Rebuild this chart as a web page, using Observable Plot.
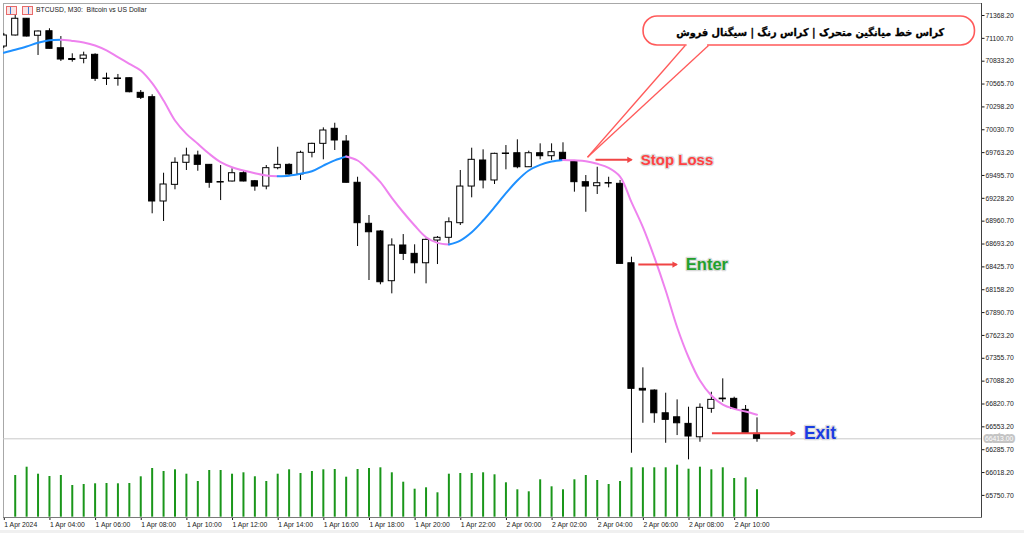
<!DOCTYPE html>
<html><head><meta charset="utf-8">
<script src="https://cdn.jsdelivr.net/npm/d3@7"></script>
<script src="https://cdn.jsdelivr.net/npm/@observablehq/plot@0.6"></script>
<style>
html,body{margin:0;padding:0;background:#fff;overflow:hidden;}
#wrap{position:relative;width:1024px;height:533px;background:#fff;}
#wrap svg{position:absolute;left:0;top:0;}
#title{position:absolute;left:36px;top:6px;font:6.8px "Liberation Sans",Arial,sans-serif;color:#1a1a1a;white-space:pre;z-index:5;}
.ico{position:absolute;top:6px;width:9px;height:7px;border:1px solid #e86a6a;background:#fbe3e3;z-index:5;}
.ico i{position:absolute;left:3px;top:0;width:1px;height:7px;background:#3a7bd5;}
#strip{position:absolute;left:0;top:530px;width:1024px;height:3px;background:#f0f0f0;}
</style></head><body>
<div id="wrap"><div id="strip"></div>
<div class="ico" style="left:6px"><i></i></div><div class="ico" style="left:22px"><i style="left:5px"></i></div>
<div id="title">BTCUSD, M30:  Bitcoin vs US Dollar</div>
</div>
<script>
// ---- data (BTCUSD M30, 1 Apr 2024 02:00 -> 2 Apr 2024 11:00) ----
const open = [71005, 71134, 71330, 71131, 71184, 70985, 70859, 70861, 70908, 70631,
 70625, 70634, 70463, 70412, 69191, 69386, 69644, 69729, 69620, 69419,
 69425, 69522, 69428, 69366, 69581, 69620, 69507, 69761, 69866, 70042,
 69893, 69410, 68930, 68840, 68258, 68676, 68578, 68468, 68734, 68766,
 68937, 69366, 69671, 69437, 69753, 69756, 69592, 69756, 69721, 69761,
 69663, 69417, 69370, 69407, 69398, 68468, 66998, 66978, 66712, 66665,
 66588, 66431, 66764, 66884, 66881, 66752, 66471];
const high = [71158, 71368, 71333, 71187, 71213, 71122, 70920, 70939, 70920, 70693,
 70678, 70637, 70490, 70440, 69522, 69702, 69815, 69780, 69624, 69612,
 69574, 69545, 69437, 69612, 69826, 69632, 69780, 69873, 70053, 70107,
 69963, 69475, 69027, 68851, 68754, 68804, 68684, 68754, 68781, 69000,
 69554, 69815, 69796, 69756, 69846, 69913, 69780, 69866, 69866, 69878,
 69667, 69495, 69592, 69475, 69437, 68539, 67244, 66986, 66947, 66869,
 66783, 66822, 66958, 67115, 66900, 66803, 66658];
const low = [70982, 71128, 71117, 70900, 70976, 70830, 70822, 70803, 70596, 70549,
 70541, 70463, 70385, 69047, 68957, 69328, 69554, 69545, 69346, 69202,
 69419, 69421, 69311, 69328, 69562, 69495, 69437, 69702, 69679, 69788,
 69407, 68664, 68266, 68216, 68110, 68500, 68344, 68227, 68453, 68676,
 68910, 69234, 69339, 69390, 69562, 69574, 69589, 69679, 69671, 69669,
 69300, 69065, 69273, 69351, 68459, 66244, 66595, 66595, 66361, 66451,
 66167, 66373, 66712, 66841, 66762, 66475, 66373];
const close = [71134, 71330, 71122, 71181, 70978, 70853, 70847, 70900, 70627, 70625,
 70631, 70470, 70405, 69191, 69390, 69644, 69729, 69620, 69410, 69413,
 69522, 69425, 69366, 69581, 69620, 69507, 69761, 69866, 70022, 69905,
 69410, 68937, 68831, 68246, 68676, 68578, 68468, 68742, 68766, 68948,
 69366, 69679, 69437, 69749, 69747, 69592, 69756, 69721, 69768, 69671,
 69417, 69366, 69405, 69401, 68461, 66998, 66978, 66712, 66635, 66595,
 66440, 66776, 66869, 66876, 66764, 66478, 66413];
const tickVolume = [4000, 4170, 5000, 4300, 4070, 4170, 3170, 3270, 3340, 3370,
 3340, 3370, 4040, 4870, 4570, 4740, 4300, 3570, 4670, 4670,
 4300, 4440, 4040, 3570, 4300, 4740, 4370, 4570, 4740, 4770,
 4000, 4770, 4870, 4940, 4440, 3500, 2800, 2940, 2440, 4300,
 4370, 4370, 4440, 4240, 3440, 2740, 2540, 3740, 3040, 2740,
 3740, 4170, 3670, 3270, 3570, 4940, 4940, 4940, 4940, 5200,
 4800, 5000, 4740, 4940, 3870, 3940, 2740];
const movingAverage = [70932, 70967, 71005, 71049, 71078, 71084, 71071, 71052, 71017, 70959,
 70880, 70803, 70724, 70576, 70373, 70139, 69983, 69866, 69749, 69651,
 69592, 69554, 69522, 69495, 69487, 69493, 69515, 69545, 69612, 69673,
 69718, 69671, 69554, 69417, 69234, 69065, 68910, 68773, 68707, 68687,
 68734, 68831, 68968, 69124, 69288, 69437, 69554, 69620, 69659, 69678,
 69673, 69663, 69632, 69585, 69483, 69183, 68890, 68539, 68149, 67719,
 67368, 67095, 66920, 66814, 66764, 66732, 66694];
const lastPrice = 66413.00;
const priceTicks = [71368.2, 71100.7, 70833.2, 70565.7, 70298.2, 70030.7, 69763.2, 69495.7,
 69228.2, 68960.7, 68693.2, 68425.7, 68158.2, 67890.7, 67623.2, 67355.7, 67088.2, 66820.7,
 66553.2, 66285.7, 66018.2, 65750.7];
const timeTickIndex = [0, 4, 8, 12, 16, 20, 24, 28, 32, 36, 40, 44, 48, 52, 56, 60, 64];
const timeTickLabels = ["1 Apr 2024", "1 Apr 04:00", "1 Apr 06:00", "1 Apr 08:00", "1 Apr 10:00",
 "1 Apr 12:00", "1 Apr 14:00", "1 Apr 16:00", "1 Apr 18:00", "1 Apr 20:00", "1 Apr 22:00",
 "2 Apr 00:00", "2 Apr 02:00", "2 Apr 04:00", "2 Apr 06:00", "2 Apr 08:00", "2 Apr 10:00"];
// annotations (bar index / price)
const annotLabels = ["Stop Loss", "Enter", "Exit"];
const annotFrom = [51.85, 55.6, 62.05];
const annotTo = [55.2, 59.15, 69.5];
const annotPrice = [69679, 68453, 66478];
const bubbleText = "کراس خط میانگین متحرک | کراس رنگ | سیگنال فروش";
const bubbleIdx = [56.06, 85.1];
const bubblePrice = [71017, 71356];
const bubbleTextAt = [70.66, 71168];
const tailBaseIdx = [59.71, 61.75];
const tailTip = [51.15, 69709];

// ---- styles ----
const MA_UP = "#1e90ff", MA_DOWN = "#ee82ee", RED = "#f04545";
const annotColors = ["#ff4242", "#22a02c", "#1a3ce2"];
const annotSizes = [15, 16.5, 17.5];

const bars = open.map((o, i) => ({i, o, h: high[i], l: low[i], c: close[i]}));
const maPts = [];
let run = 0, prev = null;
for (let j = 0; j < movingAverage.length - 1; j++) {
  const col = movingAverage[j + 1] >= movingAverage[j] ? MA_UP : MA_DOWN;
  if (col !== prev) { run++; prev = col; maPts.push({i: j, v: movingAverage[j], run, col}); }
  maPts.push({i: j + 1, v: movingAverage[j + 1], run, col});
}
const annots = annotLabels.map((label, k) => ({label, from: annotFrom[k], to: annotTo[k], p: annotPrice[k], color: annotColors[k], size: annotSizes[k]}));

const X = () => ({domain: [0, 66], range: [3.3, 756.5]});
const dims = {width: 1024, height: 533, marginTop: 3, marginBottom: 16, marginRight: 43};
const font = "'Liberation Sans', Arial, sans-serif";

const volPlot = Plot.plot({
  ...dims, marginLeft: 5,
  style: {background: "transparent", overflow: "visible"},
  x: {...X(), axis: null}, y: {domain: [0, 5000], range: [516.7, 466.7], axis: null},
  marks: [
    Plot.ruleX(tickVolume, {x: (d, i) => i, y1: 0, y2: d => d, stroke: "#1a961a", strokeWidth: 2, clip: true})
  ]
});

const main = Plot.plot({
  ...dims, marginLeft: 3,
  style: {background: "transparent", fontFamily: font, fontSize: "6.8px", color: "#1a1a1a", overflow: "visible"},
  x: X(), y: {domain: [65750.7, 71368.2], range: [494.9, 15]},
  color: {type: "identity"},
  marks: [
    Plot.frame({stroke: "#a8a8a8"}),
    Plot.ruleY([lastPrice], {stroke: "#c8c8c8"}),
    Plot.ruleX(bars, {x: "i", y1: "l", y2: "h", stroke: "#000", strokeWidth: 1, clip: true}),
    Plot.rect(bars, {x1: d => d.i - 0.27, x2: d => d.i + 0.27, y1: "o", y2: "c",
      fill: d => d.c >= d.o ? "#fff" : "#000", stroke: "#000", strokeWidth: 1, clip: true}),
    Plot.line(maPts, {x: "i", y: "v", z: "run", stroke: "col", strokeWidth: 2, curve: "catmull-rom", clip: true}),
    // speech bubble
    Plot.rect([bubbleText], {x1: bubbleIdx[0], x2: bubbleIdx[1], y1: bubblePrice[0], y2: bubblePrice[1],
      rx: 14, fill: "#fff", stroke: "#ff5a5a", strokeWidth: 1.6}),
    Plot.link([0], {x1: tailBaseIdx[0] + 0.12, x2: tailBaseIdx[1] - 0.12, y1: bubblePrice[0], y2: bubblePrice[0], stroke: "#fff", strokeWidth: 3}),
    Plot.link(tailBaseIdx, {x1: d => d, y1: bubblePrice[0], x2: tailTip[0], y2: tailTip[1], stroke: "#ff5a5a", strokeWidth: 1.3}),
    Plot.text([bubbleText], {x: bubbleTextAt[0], y: bubbleTextAt[1], text: d => d, fontSize: 10.5, fontWeight: "bold",
      fontFamily: "'DejaVu Sans', sans-serif", fill: "#000", stroke: "#000", strokeWidth: 0.3}),
    // arrows + labels
    Plot.link(annots, {x1: "from", x2: d => d.to - 0.2, y1: "p", y2: "p", stroke: RED, strokeWidth: 2}),
    Plot.dot(annots, {x: "to", y: "p", symbol: "triangle2", rotate: 90, r: 3, fill: RED, stroke: "none", dx: -4.6}),
    Plot.text(annots, {x: "to", y: "p", text: "label", dx: 7, textAnchor: "start", fill: "color", fontSize: "size",
      fontWeight: "bold", fontFamily: font, stroke: "#dadada", strokeWidth: 2.5}),
    // price tag
    Plot.text([lastPrice], {y: d => d, frameAnchor: "right", dx: 3.5, textAnchor: "start", text: d => d.toFixed(2),
      fill: "#fff", stroke: "#c4c4c4", strokeWidth: 4, strokeLinejoin: "miter"}),
    // axes
    Plot.axisY({anchor: "right", ticks: priceTicks, tickFormat: d => d.toFixed(2), tickSize: 2.5, tickPadding: 1.5, label: null}),
    Plot.axisX({ticks: timeTickIndex, tickFormat: d => timeTickLabels[timeTickIndex.indexOf(d)], textAnchor: "start",
      tickSize: 3, tickPadding: 1.5, dx: 0.5, label: null}),
    Plot.frame({anchor: "right", stroke: "#404040"}),
    Plot.frame({anchor: "bottom", stroke: "#7a7a7a"})
  ]
});

// fit the Persian caption to the bubble width, as in the original
main.querySelectorAll("text").forEach(t => {
  if (t.textContent === bubbleText) {
    t.setAttribute("textLength", "268");
    t.setAttribute("lengthAdjust", "spacingAndGlyphs");
  }
});

const wrap = document.getElementById("wrap");
wrap.appendChild(volPlot);
wrap.appendChild(main);
</script>
</body></html>
